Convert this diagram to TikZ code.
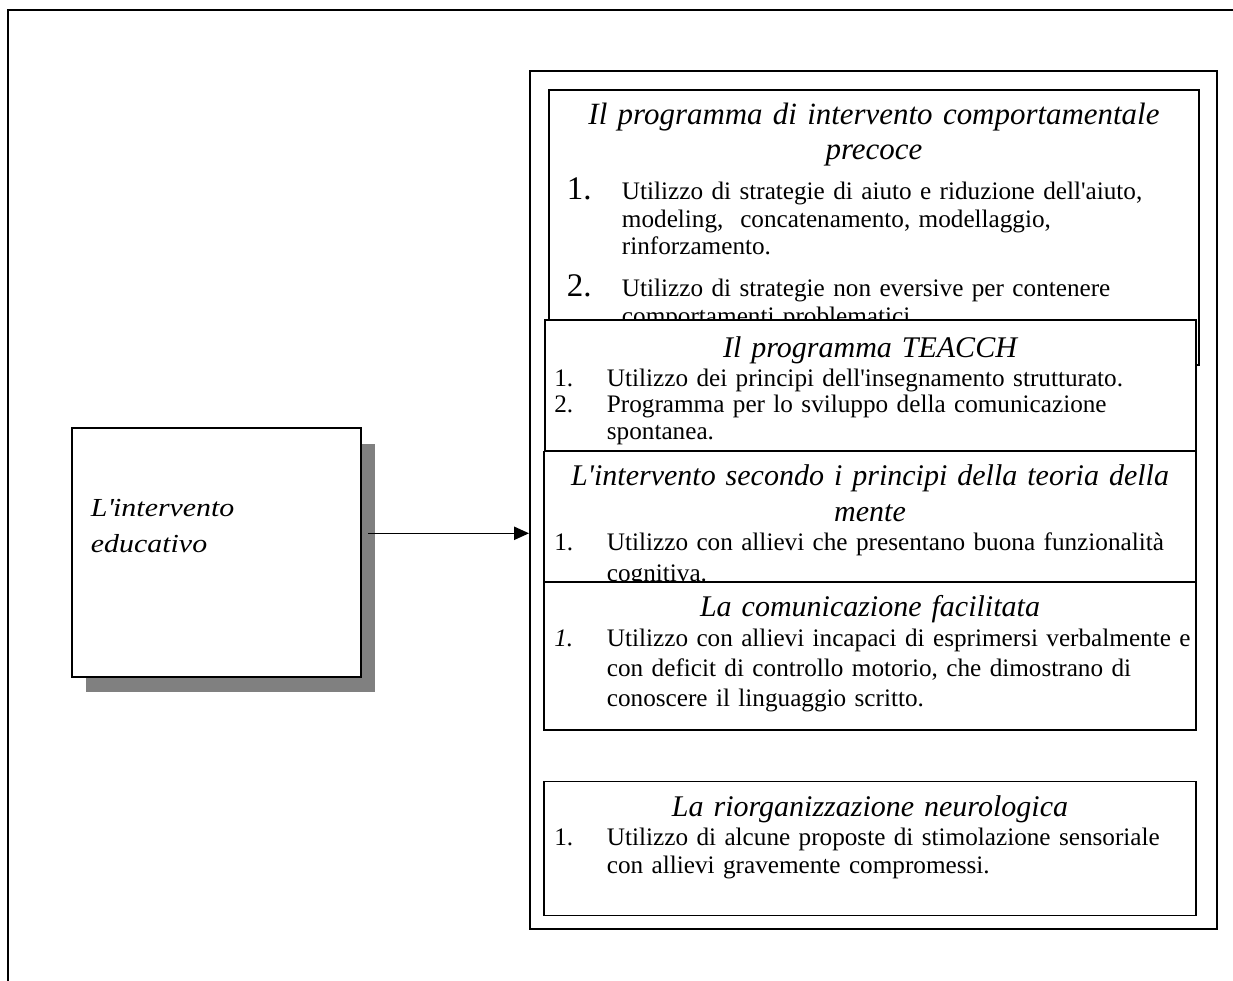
\documentclass[tikz,border=0pt]{standalone}
\usepackage{fontspec}
\setmainfont{Liberation Serif}
\newfontfamily\educfont{Liberation Serif}[FakeStretch=1.15]
\usepackage{tikz}
\usetikzlibrary{arrows.meta,fit}

\newlength{\rientro}
\newcommand{\apo}{\textquotesingle}
\newcommand{\corpo}{\fontsize{18.9pt}{20.6pt}\selectfont}
\newcommand{\titolo}{\fontsize{22.5pt}{26.5pt}\selectfont\itshape}
\newcommand{\numgrande}[1]{{\fontsize{24.75pt}{20pt}\selectfont #1}}
\newcommand{\voce}[2]{\noindent\hangindent=\rientro\hangafter=1\makebox[\rientro][l]{#1}#2\par}

\tikzset{
  riquadro/.style={draw, fill=white, line width=1.1pt, inner sep=0pt},
  contenitore/.style={draw, line width=1.5pt, inner sep=0pt},
  ombra/.style={fill=gray, inner sep=0pt},
  titolobox/.style={anchor=base, text width=480pt, align=center, font=\titolo, inner sep=0pt,
    execute at begin node={\setlength{\baselineskip}{#1}}},
  titolobox/.default=26.5pt,
  elenco/.style={anchor=base west, text width=480pt, align=left, font=\corpo, inner sep=0pt,
    execute at begin node={\setlength{\baselineskip}{#1}}},
  elenco/.default=20pt,
  testoEduc/.style={anchor=base west, text width=200pt, align=left, inner sep=0pt,
    font=\educfont\fontsize{19.5pt}{27pt}\selectfont\itshape},
  freccia/.style={line width=1pt, -{Triangle[length=11.25pt,width=10pt]}}
}

\begin{document}
\begin{tikzpicture}[x=0.75pt,y=0.75pt,yscale=-1,xscale=1]
\useasboundingbox (0,0) rectangle (1233,981);

%Shape: frame
\draw [line width=1pt] (8,981) -- (8,10) -- (1233,10) ;

%Shape: shadow and left box
\node [ombra, fit={(86,444) (375,692)}] (ombraEduc) {};
\node [riquadro, fit={(72,428) (361,677)}] (educ) {};
% Text Node
\node [testoEduc] (educT) at (90.7,516.7) {L\apo intervento\\educativo};

%Shape: container
\node [contenitore, fit={(530,71) (1217,929)}] (cont) {};

%Shape: precoce
\node [riquadro, fit={(549,90) (1199,365)}] (precoce) {};
% Text Node
\node [titolobox=25.7pt, font=\fontsize{23.2pt}{25.7pt}\selectfont\itshape] (titPrecoce) at (874,125) {Il programma di intervento comportamentale\\precoce};
\setlength{\rientro}{41.4pt}
\node [elenco=20.85pt] (listaPrecoce1) at (566.5,199.3) {\voce{\numgrande{1.}}{Utilizzo di strategie di aiuto e riduzione dell\apo aiuto,\newline modeling,~ concatenamento, modellaggio,\newline rinforzamento.}};
\node [elenco=20.85pt] (listaPrecoce2) at (566.5,296.7) {\voce{\numgrande{2.}}{Utilizzo di strategie non eversive per contenere\newline comportamenti problematici.}};

%Shape: TEACCH
\node [riquadro, fit={(545,320) (1196,451)}] (teacch) {};
% Text Node
\setlength{\rientro}{39.5pt}
\node [titolobox] (titTeacch) at (870,357.3) {Il programma TEACCH};
\node [elenco] (listaTeacch) at (554,386) {\voce{1.}{Utilizzo dei principi dell\apo insegnamento strutturato.}\voce{2.}{Programma per lo sviluppo della comunicazione\newline spontanea.}};

%Shape: teoria della mente
\node [riquadro, fit={(544,451.7) (1196,582)}] (mente) {};
% Text Node
\node [titolobox=27.5pt] (titMente) at (870,485) {L\apo intervento secondo i principi della teoria della\\mente};
\node [elenco=23.25pt] (listaMente) at (554,550) {\voce{1.}{Utilizzo con allievi che presentano buona funzionalità\newline cognitiva.}};

%Shape: comunicazione facilitata
\node [riquadro, fit={(544,582) (1196,730)}] (facilitata) {};
% Text Node
\node [titolobox] (titFacilitata) at (870,616.7) {La comunicazione facilitata};
\node [elenco=22.5pt] (listaFacilitata) at (554,646.7) {\voce{\textit{1.}}{Utilizzo con allievi incapaci di esprimersi verbalmente e\newline con deficit di controllo motorio, che dimostrano di\newline conoscere il linguaggio scritto.}};

%Shape: riorganizzazione neurologica
\node [riquadro, fit={(544,781.7) (1196,915.7)}] (riorg) {};
% Text Node
\node [titolobox] (titRiorg) at (870,816.7) {La riorganizzazione neurologica};
\node [elenco=21.2pt] (listaRiorg) at (554,845) {\voce{1.}{Utilizzo di alcune proposte di stimolazione sensoriale\newline con allievi gravemente compromessi.}};

% arrow
\coordinate (partenza) at (368,533.3);
\draw [freccia] (partenza) -- (partenza -| cont.west);

\end{tikzpicture}
\end{document}
